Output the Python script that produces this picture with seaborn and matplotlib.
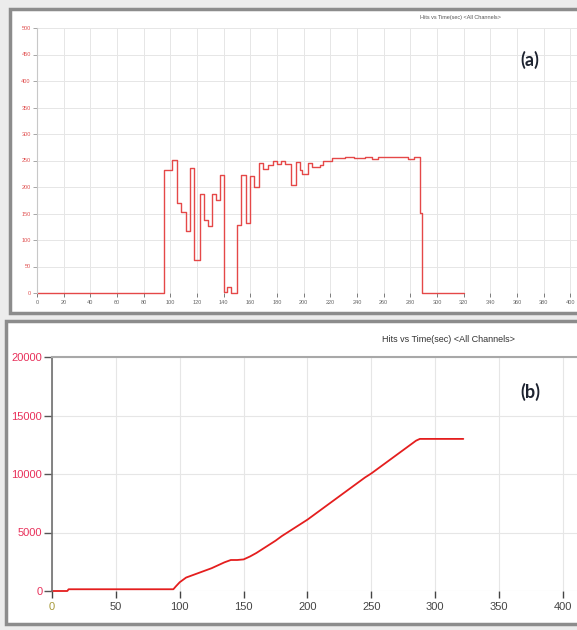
import matplotlib.pyplot as plt
import seaborn as sns
from matplotlib.patches import Rectangle

W, H = 577, 630

# (a) hits per time bin, step values starting at each time
rate_time = [0, 95, 101.5, 105, 108, 111.5, 115, 118, 122, 125, 128, 131.5, 134, 137,
             140, 142.5, 145.5, 150, 153, 156.5, 159.5, 163, 166.5, 169.5, 173, 177,
             180, 183, 186, 190.5, 194.5, 197, 199, 203, 206, 212, 214.5, 221, 231,
             238, 246, 251, 256, 262, 270, 278, 283, 287, 289, 320]
rate_hits = [0, 233, 251, 170, 152, 117, 236, 62, 186, 137, 126, 187, 175, 223,
             1, 11, 0, 128, 222, 133, 220, 200, 246, 234, 242, 250,
             244, 250, 244, 204, 248, 232, 225, 245, 237, 241, 250, 255, 256,
             254, 256, 252, 256, 257, 256, 252, 257, 151, 0, 0]

# (b) cumulative hits
cum_time = [0, 12, 13, 95, 97, 100, 105, 110, 115, 120, 125, 130, 135, 140, 145, 150,
            155, 160, 165, 170, 175, 180, 185, 190, 195, 200, 205, 210, 215, 220,
            225, 230, 235, 240, 245, 250, 255, 260, 265, 270, 275, 280, 285, 288, 322]
cum_hits = [0, 0, 150, 150, 400, 750, 1150, 1350, 1550, 1750, 1950, 2200, 2450, 2650,
            2650, 2700, 2950, 3250, 3600, 3950, 4300, 4700, 5050, 5400, 5750, 6100,
            6500, 6900, 7300, 7700, 8100, 8500, 8900, 9300, 9700, 10050, 10450,
            10850, 11250, 11650, 12050, 12450, 12850, 13000, 13000]

title_txt = "Hits vs Time(sec) <All Channels>"

sns.set_style("white")
plt.rcParams["font.family"] = ["Liberation Sans", "DejaVu Sans"]

fig = plt.figure(figsize=(W / 100, H / 100), dpi=100)
fig.patch.set_facecolor("#ececec")


def rect(x0, y0, x1, y1):
    return [x0 / W, 1 - y1 / H, (x1 - x0) / W, (y1 - y0) / H]


# window frames
for x0, y0, x1, y1 in [(10, 9, 600, 313), (6, 321, 600, 624)]:
    b = rect(x0, y0, x1, y1)
    fig.add_artist(Rectangle((b[0], b[1]), b[2], b[3], transform=fig.transFigure,
                             facecolor="white", edgecolor="#8c8c8c", lw=2.5, zorder=-1))

# ---- (a)
ax1 = fig.add_axes(rect(37, 28, 577, 293))
ax1.patch.set_alpha(0)
sns.lineplot(x=rate_time, y=rate_hits, estimator=None, drawstyle="steps-post",
             color="#e54848", linewidth=1.0, ax=ax1, clip_on=False)
ax1.set_xlim(0, 405)
ax1.set_ylim(0, 500)
ax1.set_xticks(range(0, 401, 20))
ax1.set_yticks(range(0, 501, 50))
ax1.grid(True, color="#e6e6e6", linewidth=0.7)
for s in ["top", "right", "bottom"]:
    ax1.spines[s].set_visible(False)
ax1.spines["left"].set_color("#c8c8c8")
ax1.tick_params(axis="x", colors="#666666", labelsize=4, length=3, width=0.6,
                direction="out", bottom=True, pad=2)
ax1.tick_params(axis="y", colors="#999999", labelcolor="#e05050", labelsize=4,
                length=3, width=0.6, left=True, pad=1.5)
fig.text(460 / W, 1 - 17 / H, title_txt, fontsize=4, color="#555555",
         ha="center", va="center")
fig.text(530 / W, 1 - 60 / H, "(a)", fontsize=13, fontweight="bold",
         family=["Lato", "DejaVu Sans"], color="#1d2330", ha="center", va="center")

# ---- (b)
ax2 = fig.add_axes(rect(52, 357, 577, 591))
ax2.patch.set_alpha(0)
sns.lineplot(x=cum_time, y=cum_hits, estimator=None,
             color="#e41e1e", linewidth=1.3, ax=ax2, clip_on=False)
ax2.set_xlim(0, 411)
ax2.set_ylim(0, 20000)
ax2.set_xticks(range(0, 401, 50))
ax2.set_yticks(range(0, 20001, 5000))
ax2.grid(True, color="#e6e6e6", linewidth=0.8)
for s in ["right", "bottom"]:
    ax2.spines[s].set_visible(False)
ax2.spines["left"].set_color("#707070")
ax2.spines["left"].set_linewidth(1.2)
ax2.spines["top"].set_color("#a8a8a8")
ax2.spines["top"].set_linewidth(1.5)
ax2.tick_params(axis="x", colors="#444444", labelsize=8, length=5, width=1,
                direction="out", bottom=True, pad=3)
ax2.tick_params(axis="y", colors="#555555", labelcolor="#e8305a", labelsize=8,
                length=6, width=1, left=True, pad=1)
ax2.get_xticklabels()[0].set_color("#a89a3a")
fig.text(448 / W, 1 - 339 / H, title_txt, fontsize=6.5, color="#333333",
         ha="center", va="center")
fig.text(530 / W, 1 - 392 / H, "(b)", fontsize=13, fontweight="bold",
         family=["Lato", "DejaVu Sans"], color="#1d2330", ha="center", va="center")

fig.savefig("out.png", dpi=100)
